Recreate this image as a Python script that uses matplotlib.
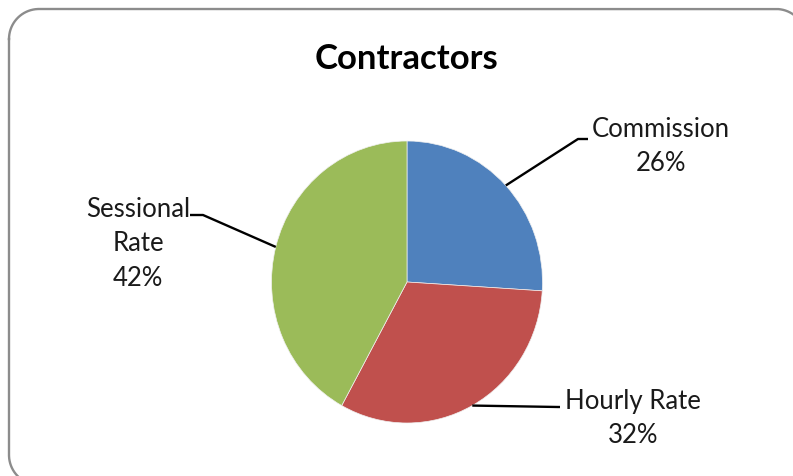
import numpy as np
import matplotlib
matplotlib.use("Agg")
import matplotlib.pyplot as plt

plt.rcParams["savefig.bbox"] = "standard"

# ---- data ----
title = "Contractors"
categories = ["Commission", "Hourly Rate", "Sessional Rate"]
label_texts = ["Commission\n26%", "Hourly Rate\n32%", "Sessional\nRate\n42%"]
values = [26, 32, 42]
colors = ["#4F81BD", "#C0504D", "#9BBB59"]

W, H = 793, 477
fig = plt.figure(figsize=(W / 100, H / 100), dpi=100)
FONT = ["Lato", "DejaVu Sans"]

def fx(x):
    return x / W

def fy(y):
    return 1 - y / H

# pie axes: bounding box of the (slightly elliptical) pie in pixels
cx, cy, rx, ry = 407, 283, 135.5, 141
pax = fig.add_axes([fx(cx - rx), fy(cy + ry), 2 * rx / W, 2 * ry / H])
wedges, _ = pax.pie(values, colors=colors, startangle=90, counterclock=False,
                    radius=1, wedgeprops=dict(linewidth=0.5, edgecolor="#f0f0f0"))
pax.set_aspect("auto")
pax.set_xlim(-1, 1)
pax.set_ylim(-1, 1)
pax.axis("off")

# overlay axes in pixel coordinates for labels / leader lines / border
oax = fig.add_axes([0, 0, 1, 1])
oax.set_xlim(0, W)
oax.set_ylim(H, 0)
oax.axis("off")

# rounded chart-area border (right and bottom edges fall just outside the image)
x0, y0, x1, y1, r = 9, 10, 806, 486, 30
corners = [
    (x0 + r, y0 + r, np.pi, 1.5 * np.pi),      # top-left
    (x1 - r, y0 + r, 1.5 * np.pi, 2 * np.pi),  # top-right
    (x1 - r, y1 - r, 0, 0.5 * np.pi),          # bottom-right
    (x0 + r, y1 - r, 0.5 * np.pi, np.pi),      # bottom-left
]
px, py = [], []
for ccx, ccy, a0, a1 in corners:
    a = np.linspace(a0, a1, 40)
    px.extend(ccx + r * np.cos(a))
    py.extend(ccy + r * np.sin(a))
px.append(px[0])
py.append(py[0])
oax.plot(px, py, color="#8C8C8C", lw=1.7, clip_on=True)

# label positions (pixels) and leader-line elbows
label_pos = [(661, 147), (633, 419), (138, 244)]
elbows = [((578, 140), (588, 140)), ((558, 408), (560, 408)), ((203, 216), (190, 216))]

for w, txt, (lx, ly), (e1, e2) in zip(wedges, label_texts, label_pos, elbows):
    ang = np.deg2rad((w.theta1 + w.theta2) / 2)
    sx = cx + rx * np.cos(ang)
    sy = cy - ry * np.sin(ang)
    oax.plot([sx, e1[0], e2[0]], [sy, e1[1], e2[1]], color="black", lw=1.7,
             solid_capstyle="butt")
    oax.text(lx, ly, txt, ha="center", va="center", fontsize=18.5,
             family=FONT, color="#1a1a1a", linespacing=1.45)

oax.text(406, 59, title, ha="center", va="center", fontsize=25,
         fontweight="bold", family=FONT, color="black")

fig.savefig("out.png", dpi=100, bbox_inches=None)
